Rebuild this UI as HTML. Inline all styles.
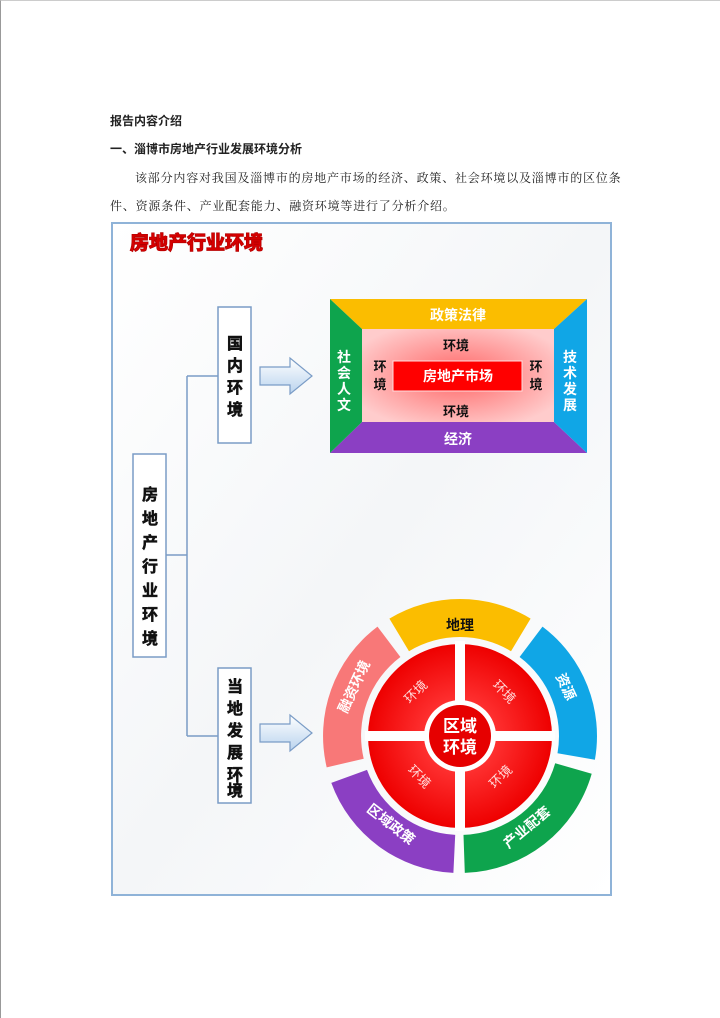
<!DOCTYPE html>
<html><head><meta charset="utf-8"><style>
body{margin:0;width:720px;height:1018px;background:#fff;position:relative;overflow:hidden;font-family:"Liberation Serif","Noto Serif CJK SC",serif;}
.t{position:absolute;font-size:12px;color:#222;white-space:nowrap;letter-spacing:0.8px}
.b{font-weight:bold;font-family:"Liberation Sans","Noto Sans CJK SC",sans-serif;letter-spacing:0}
</style></head><body>
<div style="position:absolute;left:0;top:0;width:719px;height:1017px;border-left:1px solid #999;border-top:1px solid #ccc"></div>
<div class="t b" style="left:110px;top:112px">报告内容介绍</div>
<div class="t b" style="left:110px;top:140px">一、淄博市房地产行业发展环境分析</div>
<div class="t" style="left:135px;top:169px">该部分内容对我国及淄博市的房地产市场的经济、政策、社会环境以及淄博市的区位条</div>
<div class="t" style="left:110px;top:197px">件、资源条件、产业配套能力、融资环境等进行了分析介绍。</div>
<svg style="position:absolute;left:0;top:0" width="720" height="1018" font-family="Liberation Sans,Noto Sans CJK SC,sans-serif">
<defs>
<linearGradient id="bg" x1="0" y1="0" x2="1" y2="1"><stop offset="0" stop-color="#fff"/><stop offset="0.5" stop-color="#f4f6f8"/><stop offset="1" stop-color="#fff"/></linearGradient>
<radialGradient id="pk" cx="0.5" cy="0.5" r="0.6"><stop offset="0" stop-color="#f66"/><stop offset="1" stop-color="#fcc"/></radialGradient>
<linearGradient id="ar" x1="0" y1="0" x2="0" y2="1"><stop offset="0" stop-color="#fff"/><stop offset="1" stop-color="#b9d3ee"/></linearGradient>
<radialGradient id="rd" cx="0.5" cy="0.5" r="0.5"><stop offset="0.35" stop-color="#f33"/><stop offset="1" stop-color="#e00"/></radialGradient>
</defs>
<rect x="112" y="223" width="499" height="672" fill="url(#bg)" stroke="#8fb3d8" stroke-width="2"/>
<text x="130" y="249" font-size="19" font-weight="bold" fill="#d40000" stroke="#b00000" stroke-width="1.2" paint-order="stroke">房地产行业环境</text>
<g stroke="#7a9cc6" stroke-width="1.5" fill="none">
<path d="M166 555H187M187 376V736M187 376H218M187 736H218"/>
<rect x="133" y="454" width="33" height="203" fill="#fff"/>
<rect x="218" y="307" width="33" height="136" fill="#fff"/>
<rect x="218" y="668" width="33" height="135" fill="#fff"/>
</g>
<g font-size="16" font-weight="bold" fill="#111" stroke="#111" stroke-width="0.5" text-anchor="middle">
<text x="150" y="500">房</text><text x="150" y="524">地</text><text x="150" y="548">产</text><text x="150" y="572">行</text><text x="150" y="596">业</text><text x="150" y="620">环</text><text x="150" y="644">境</text>
<text x="235" y="349">国</text><text x="235" y="371">内</text><text x="235" y="393">环</text><text x="235" y="415">境</text>
<text x="235" y="692">当</text><text x="235" y="714">地</text><text x="235" y="736">发</text><text x="235" y="758">展</text><text x="235" y="780">环</text><text x="235" y="796">境</text>
</g>
<g fill="url(#ar)" stroke="#7a9cc6" stroke-width="1.2">
<path d="M260 367H290V358L312 376L290 394V385H260Z"/>
<path d="M260 724H290V715L312 733L290 751V742H260Z"/>
</g>
<polygon points="330,299 587,299 554,329 362,329" fill="#fbbd00"/>
<polygon points="330,453 587,453 554,422 362,422" fill="#8b3fc3"/>
<polygon points="330,299 362,329 362,422 330,453" fill="#0ea44d"/>
<polygon points="587,299 554,329 554,422 587,453" fill="#10a6e6"/>
<rect x="362" y="329" width="192" height="93" fill="url(#pk)"/>
<rect x="393" y="361" width="129" height="30" fill="#f00" stroke="#fdd" stroke-width="1"/>
<g font-weight="bold" text-anchor="middle">
<text x="458" y="320" font-size="14" fill="#fff">政策法律</text>
<text x="458" y="444" font-size="14" fill="#fff">经济</text>
<text x="458" y="381" font-size="14" fill="#fff">房地产市场</text>
<text x="456" y="350" font-size="13" fill="#111">环境</text>
<text x="456" y="416" font-size="13" fill="#111">环境</text>
<text x="380" y="371" font-size="13" fill="#111">环</text><text x="380" y="389" font-size="13" fill="#111">境</text>
<text x="536" y="371" font-size="13" fill="#111">环</text><text x="536" y="389" font-size="13" fill="#111">境</text>
<g font-size="14" fill="#fff">
<text x="344" y="362">社</text><text x="344" y="378">会</text><text x="344" y="394">人</text><text x="344" y="410">文</text>
<text x="570" y="362">技</text><text x="570" y="378">术</text><text x="570" y="394">发</text><text x="570" y="410">展</text>
</g></g>
<g transform="translate(460,736)">
<path d="M-6.6 136.9A137 137 0 0 1 -128.7 46.9L-93 33.9A99 99 0 0 0 -4.8 98.9Z" fill="#8b3fc3"/>
<path d="M-133.3 31.4A137 137 0 0 1 -82.5 -109.4L-59.6 -79A99 99 0 0 0 -96.3 22.7Z" fill="#f87878"/>
<path d="M-70.6 -117.4A137 137 0 0 1 70.6 -117.4L51 -84.8A99 99 0 0 0 -51 -84.8Z" fill="#fbbd00"/>
<path d="M82.5 -109.4A137 137 0 0 1 134.9 23.8L97.5 17.2A99 99 0 0 0 59.6 -79Z" fill="#10a6e6"/>
<path d="M131.7 37.8A137 137 0 0 1 4.8 136.9L3.5 98.9A99 99 0 0 0 95.2 27.3Z" fill="#0ea44d"/>
<circle r="92" fill="url(#rd)"/>
<rect x="-95" y="-5" width="190" height="10" fill="#fff"/>
<rect x="-5" y="-95" width="10" height="190" fill="#fff"/>
<circle r="36" fill="#fff"/>
<circle r="31" fill="#e60000"/>
<g font-weight="bold" fill="#fff" text-anchor="middle">
<text y="-4" font-size="17">区域</text><text y="17" font-size="17">环境</text>
<text x="0" y="-106" font-size="14" fill="#111">地理</text>
<text transform="rotate(65) translate(0,-112)" font-size="14">资源</text>
<text transform="translate(70,95) rotate(-40)" font-size="14">产业配套</text>
<text transform="translate(-72,92) rotate(38)" font-size="14">区域政策</text>
<text transform="rotate(-65) translate(0,-112)" font-size="14">融资环境</text>
<g font-size="13" font-weight="normal" fill="#fdd">
<text transform="rotate(-45) translate(0,-58)">环境</text>
<text transform="rotate(45) translate(0,-58)">环境</text>
<text transform="rotate(-45) translate(0,62)">环境</text>
<text transform="rotate(45) translate(0,62)">环境</text>
</g></g>
</g>
</svg>
</body></html>
